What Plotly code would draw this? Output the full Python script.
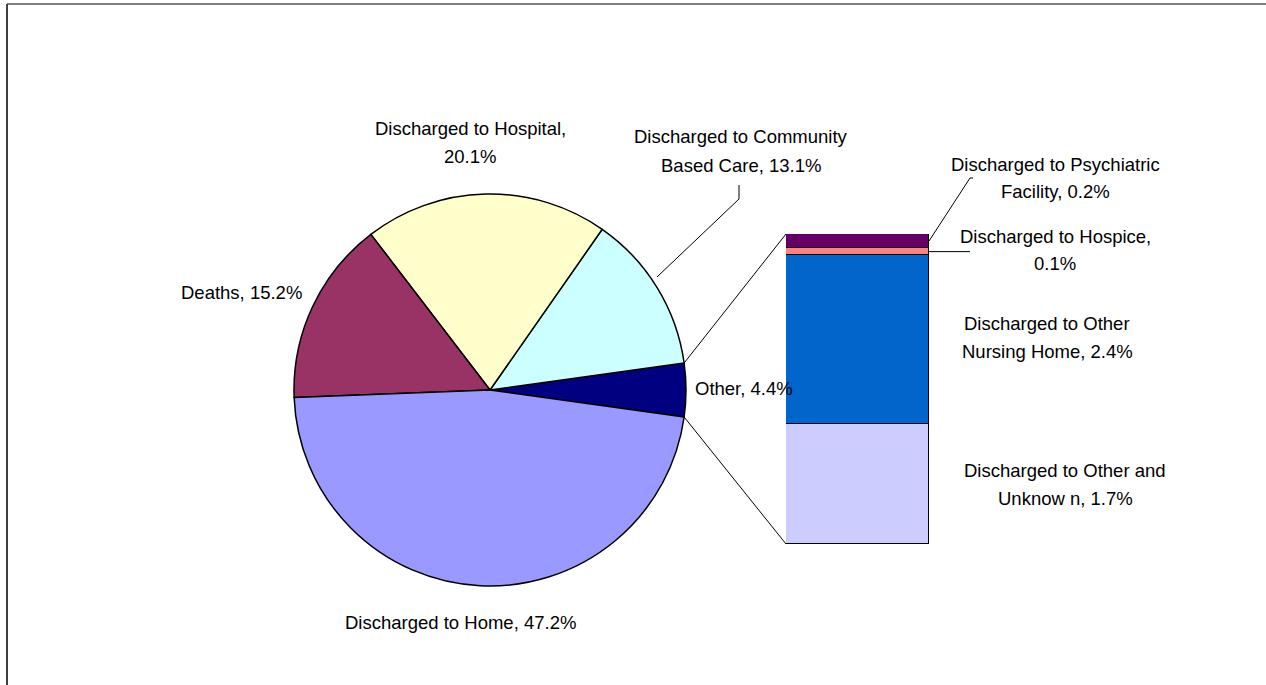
import math
import plotly.graph_objects as go

# ---- data -------------------------------------------------------------
pie_labels = ["Other", "Discharged to Community Based Care", "Discharged to Hospital",
              "Deaths", "Discharged to Home"]
pie_values = [4.4, 13.1, 20.1, 15.2, 47.2]
pie_colors = ["#000080", "#CCFFFF", "#FFFFCC", "#993366", "#9999FF"]

# breakdown of "Other", stacked bottom to top
bar_labels = ["Discharged to Other and Unknown", "Discharged to Other Nursing Home",
              "Discharged to Hospice", "Discharged to Psychiatric Facility"]
bar_values = [1.7, 2.4, 0.1, 0.2]
bar_colors = ["#CCCCFF", "#0066CC", "#FF8080", "#660066"]

W, H = 1266, 685
FONT = "Liberation Sans, Arial, sans-serif"
FONT_SIZE = 18.5

# layout geometry (pixels)
CX, CY, R = 490, 390, 196          # pie centre and radius
BX0, BX1, BY0, BY1 = 786, 929, 234, 544   # bar box: left, right, top, bottom


def px(x):
    return x / W


def py(y):
    return 1 - y / H


fig = go.Figure()

# "Other" slice is centred on the 3 o'clock direction
other_share = pie_values[0] / sum(pie_values)
half_deg = other_share * 360 / 2
fig.add_trace(go.Pie(
    labels=pie_labels,
    values=pie_values,
    sort=False,
    direction="counterclockwise",
    rotation=90 - half_deg,
    marker=dict(colors=pie_colors, line=dict(color="black", width=1.5)),
    textinfo="none",
    hoverinfo="label+percent",
    showlegend=False,
    domain=dict(x=[px(CX - R), px(CX + R)], y=[py(CY + R), py(CY - R)]),
))

for lab, val, col in zip(bar_labels, bar_values, bar_colors):
    fig.add_trace(go.Bar(
        x=["Other"], y=[val], name=lab,
        marker=dict(color=col, line=dict(color="black", width=1.5)),
        showlegend=False,
    ))

bar_total = sum(bar_values)

fig.update_layout(
    width=W, height=H,
    margin=dict(l=0, r=0, t=0, b=0),
    paper_bgcolor="white", plot_bgcolor="white",
    barmode="stack", bargap=0,
    xaxis=dict(domain=[px(BX0), px(BX1)], visible=False, fixedrange=True),
    yaxis=dict(domain=[py(BY1), py(BY0)], range=[0, bar_total], visible=False,
               fixedrange=True),
    font=dict(family=FONT, size=FONT_SIZE, color="black"),
)

shapes = []
line_style = dict(color="black", width=1)

# connectors from the "Other" slice edges to the bar corners
half = math.radians(half_deg)
ux, uy = CX + R * math.cos(half), CY - R * math.sin(half)
lx, ly = CX + R * math.cos(-half), CY - R * math.sin(-half)
shapes.append(dict(type="line", xref="paper", yref="paper",
                   x0=px(ux), y0=py(uy), x1=px(BX0), y1=py(BY0), line=line_style))
shapes.append(dict(type="line", xref="paper", yref="paper",
                   x0=px(lx), y0=py(ly), x1=px(BX0), y1=py(BY1), line=line_style))


def bar_y(v):
    return BY1 - v / bar_total * (BY1 - BY0)


# leader line for the community slice
shapes.append(dict(type="path", xref="paper", yref="paper",
                   path=f"M {px(657)} {py(277)} L {px(739)} {py(199)} L {px(739)} {py(185)}",
                   line=line_style))
# leader lines for the two thin bar segments
psy_mid = bar_y(sum(bar_values[:3]) + bar_values[3] / 2)
hos_mid = bar_y(sum(bar_values[:2]) + bar_values[2] / 2)
shapes.append(dict(type="path", xref="paper", yref="paper",
                   path=f"M {px(BX1)} {py(psy_mid)} L {px(970)} {py(178)} L {px(973)} {py(178)}",
                   line=line_style))
shapes.append(dict(type="line", xref="paper", yref="paper",
                   x0=px(BX1), y0=py(hos_mid), x1=px(970), y1=py(hos_mid), line=line_style))

# outer frame
shapes.append(dict(type="line", xref="paper", yref="paper",
                   x0=px(7), y0=py(4), x1=px(W + 5), y1=py(4),
                   line=dict(color="black", width=1)))
shapes.append(dict(type="line", xref="paper", yref="paper",
                   x0=px(7), y0=py(4), x1=px(7), y1=py(H + 5),
                   line=dict(color="#404040", width=2)))

fig.update_layout(shapes=shapes)

# data labels: (lines, centre x, first-line y) in pixels
label_text = [
    (["Discharged to Hospital,", f"{pie_values[2]}%"], 470, 128),
    (["Discharged to Community", f"Based Care, {pie_values[1]}%"], 741, 137),
    ([f"Deaths, {pie_values[3]}%"], 241, 292),
    ([f"Discharged to Home, {pie_values[4]}%"], 460, 622),
    ([f"Other, {pie_values[0]}%"], 744, 388),
    (["Discharged to Psychiatric", f"Facility, {bar_values[3]}%"], 1055, 164),
    (["Discharged to Hospice,", f"{bar_values[2]}%"], 1055, 236),
    (["Discharged to Other", f"Nursing Home, {bar_values[1]}%"], 1047, 323),
    (["Discharged to Other and", f"Unknow n, {bar_values[0]}%"], 1065, 470),
]
LINE_GAP = 28
annotations = []
for lines, x, y in label_text:
    for i, t in enumerate(lines):
        annotations.append(dict(
            text=t, x=px(x), y=py(y + i * LINE_GAP), xref="paper", yref="paper",
            xanchor="center", yanchor="middle", showarrow=False,
            font=dict(family=FONT, size=FONT_SIZE, color="black"),
        ))
fig.update_layout(annotations=annotations)

fig.write_html("out.html")
